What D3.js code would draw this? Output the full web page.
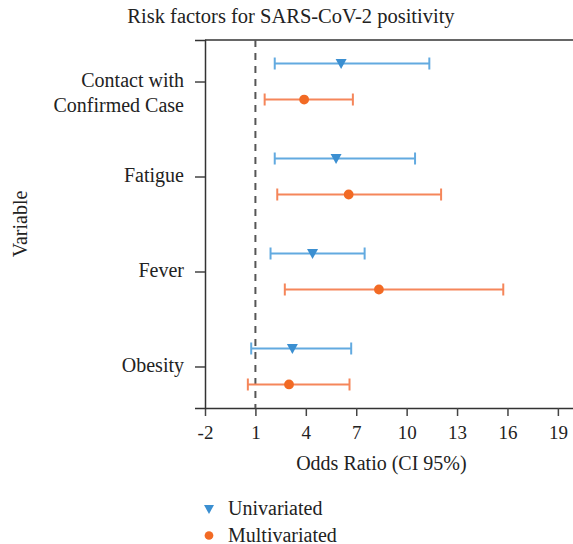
<!DOCTYPE html>
<html>
<head>
<meta charset="utf-8">
<script src="https://cdn.jsdelivr.net/npm/d3@7"></script>
<style>
  body { margin: 0; background: #fff; }
  svg text { font-family: "Liberation Serif", "DejaVu Serif", serif; fill: #222; }
</style>
</head>
<body>
<svg id="chart" width="573" height="544"></svg>
<script>
var variables = ['Contact with\nConfirmed Case', 'Fatigue', 'Fever', 'Obesity'];
var series = ['Univariated', 'Multivariated'];

// odds ratio, lower and upper CI per variable
var uniOR    = [6.1, 5.8, 4.4, 3.2];
var uniLow   = [2.15, 2.15, 1.9, 0.75];
var uniHigh  = [11.35, 10.5, 7.5, 6.7];
var multiOR  = [3.9, 6.55, 8.35, 3.0];
var multiLow = [1.55, 2.3, 2.75, 0.55];
var multiHigh = [6.8, 12.05, 15.75, 6.6];

var xTicks = [-2, 1, 4, 7, 10, 13, 16, 19];

var svg = d3.select('#chart');

var margin = {top: 40, right: 0, bottom: 136, left: 205},
    width = 573 - margin.left - margin.right,
    height = 544 - margin.top - margin.bottom;

var colors = {Univariated: {mark: '#3b8fd1', line: '#62aae0'},
              Multivariated: {mark: '#f26a24', line: '#f5865a'}};

var x = d3.scaleLinear().domain([-2, 19.9]).range([0, width]);
var y = d3.scalePoint().domain(variables).range([0, height]).padding(0.437);
var offset = d3.scalePoint().domain(series).range([-18, 18]);

var rows = [];
variables.forEach(function(v, i) {
  rows.push({variable: v, series: 'Univariated', or: uniOR[i], lo: uniLow[i], hi: uniHigh[i]});
  rows.push({variable: v, series: 'Multivariated', or: multiOR[i], lo: multiLow[i], hi: multiHigh[i]});
});

var g = svg.append('g').attr('transform', 'translate(' + margin.left + ',' + margin.top + ')');

// frame top line
g.append('line')
    .attr('x1', 0).attr('x2', width)
    .attr('y1', 0).attr('y2', 0)
    .attr('stroke', '#333').attr('stroke-width', 1.5);

var xAxis = g.append('g')
    .attr('transform', 'translate(0,' + height + ')')
    .call(d3.axisBottom(x).tickValues(xTicks).tickSize(8).tickPadding(10)
      .tickSizeOuter(0).tickFormat(function(d) { return String(d); }));

var yAxis = g.append('g')
    .call(d3.axisLeft(y).tickSize(10).tickPadding(10).tickFormat(''));

[xAxis, yAxis].forEach(function(a) {
  a.select('.domain').attr('stroke', '#333').attr('stroke-width', 1.5);
  a.selectAll('.tick line').attr('stroke', '#444').attr('stroke-width', 1.5);
});
xAxis.selectAll('.tick text').attr('font-size', 19).attr('fill', '#222')
    .attr('font-family', '"Liberation Serif", serif');

// y labels, multi-line
yAxis.selectAll('.tick').each(function(d) {
  var t = d3.select(this).append('text')
      .attr('y', 0)
      .attr('text-anchor', 'end')
      .attr('font-size', 20);
  d.split('\n').forEach(function(l, k) {
    t.append('tspan').attr('x', -21).attr('dy', k === 0 ? 5 : 25).text(l);
  });
});

// reference line at OR = 1
g.append('line')
    .attr('x1', x(1)).attr('x2', x(1))
    .attr('y1', 0).attr('y2', height)
    .attr('stroke', '#555').attr('stroke-width', 2)
    .attr('stroke-dasharray', '7,6');

var cap = 6;
var bars = g.selectAll('.bar').data(rows).enter().append('g')
    .attr('class', 'bar')
    .attr('transform', function(d) { return 'translate(0,' + (y(d.variable) + offset(d.series)) + ')'; });

bars.append('line')
    .attr('x1', function(d) { return x(d.lo); })
    .attr('x2', function(d) { return x(d.hi); })
    .attr('stroke', function(d) { return colors[d.series].line; })
    .attr('stroke-width', 2);
bars.append('line')
    .attr('x1', function(d) { return x(d.lo); })
    .attr('x2', function(d) { return x(d.lo); })
    .attr('y1', -cap).attr('y2', cap)
    .attr('stroke', function(d) { return colors[d.series].line; })
    .attr('stroke-width', 2);
bars.append('line')
    .attr('x1', function(d) { return x(d.hi); })
    .attr('x2', function(d) { return x(d.hi); })
    .attr('y1', -cap).attr('y2', cap)
    .attr('stroke', function(d) { return colors[d.series].line; })
    .attr('stroke-width', 2);

var tri = 'M-5.5,-4.5L5.5,-4.5L0,5.5Z';
bars.append('path')
    .attr('transform', function(d) { return 'translate(' + x(d.or) + ',0)'; })
    .attr('d', function(d) { return d.series === 'Univariated' ? tri : d3.symbol(d3.symbolCircle, 75)(); })
    .attr('fill', function(d) { return colors[d.series].mark; });

// title and axis labels
svg.append('text')
    .attr('x', 291).attr('y', 23)
    .attr('text-anchor', 'middle')
    .attr('font-size', 20.5)
    .text('Risk factors for SARS-CoV-2 positivity');

svg.append('text')
    .attr('x', margin.left + x(8.5)).attr('y', 470)
    .attr('text-anchor', 'middle')
    .attr('font-size', 20)
    .text('Odds Ratio (CI 95%)');

svg.append('text')
    .attr('transform', 'translate(27,' + (margin.top + height / 2) + ') rotate(-90)')
    .attr('text-anchor', 'middle')
    .attr('font-size', 20)
    .text('Variable');

// legend
var legend = svg.append('g').attr('transform', 'translate(209,509)');
var li = legend.selectAll('g').data(series).enter().append('g')
    .attr('transform', function(d, i) { return 'translate(0,' + (i * 26.5) + ')'; });
li.append('path')
    .attr('d', function(d) { return d === 'Univariated' ? 'M-5,-4L5,-4L0,5Z' : d3.symbol(d3.symbolCircle, 60)(); })
    .attr('fill', function(d) { return colors[d].mark; });
li.append('text')
    .attr('x', 19).attr('y', 6)
    .attr('font-size', 20)
    .text(function(d) { return d; });
</script>
</body>
</html>
